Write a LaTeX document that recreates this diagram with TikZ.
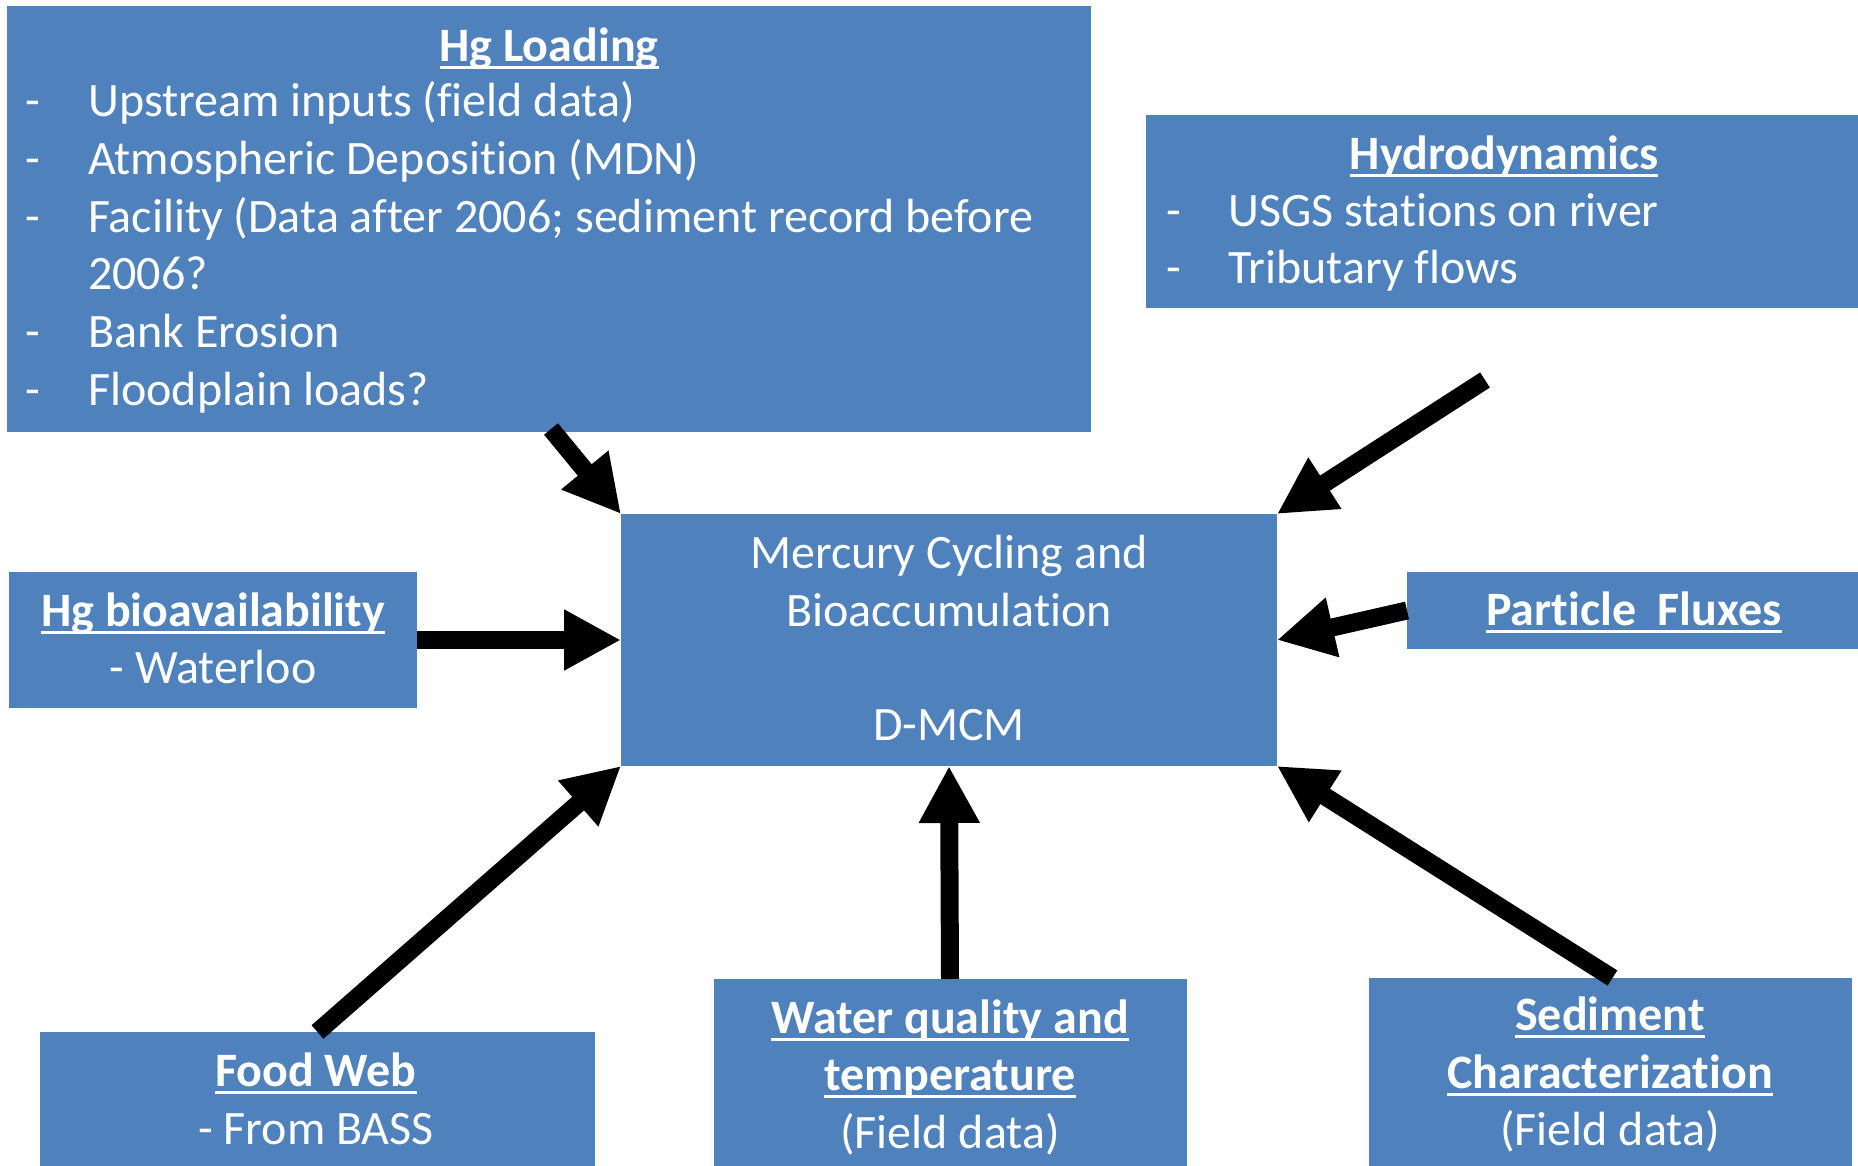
\documentclass[tikz,border=0pt]{standalone}
\usepackage{fontspec}
\setmainfont{Carlito}[Ligatures=NoCommon]
\usetikzlibrary{arrows.meta,calc}
\definecolor{boxblue}{HTML}{4F81BD}
\newcommand\ulx[1]{\setbox0\hbox{#1}\rlap{\rule[-7.5pt]{\wd0}{3pt}}\box0}
\begin{document}
\begin{tikzpicture}[x=1pt,y=-1pt,
  font=\fontsize{48}{57.6}\selectfont,
  box/.style={fill=boxblue, draw=none, inner sep=0pt, outer sep=0pt, anchor=north west},
  txt/.style={text=white, inner sep=0pt, anchor=base},
  ltxt/.style={text=white, inner sep=0pt, anchor=base west},
  conn/.style={line width=18pt, -{Triangle[length=57pt,width=57pt]}}]
\useasboundingbox (0,0) rectangle (1858,1166);
% boxes
\node[box, minimum width=1084pt, minimum height=426pt] (hgload) at (7,6) {};
\node[box, minimum width=712pt, minimum height=193pt] (hydro) at (1146,115) {};
\node[box, minimum width=656pt, minimum height=252pt] (central) at (621,514) {};
\node[box, minimum width=408pt, minimum height=136pt] (bioav) at (9,572) {};
\node[box, minimum width=451pt, minimum height=77pt] (particle) at (1407,572) {};
\node[box, minimum width=555pt, minimum height=134pt] (foodweb) at (40,1032) {};
\node[box, minimum width=473pt, minimum height=187pt] (water) at (714,979) {};
\node[box, minimum width=483pt, minimum height=188pt] (sediment) at (1369,978) {};
% Hg Loading text
\node[txt] (hgt) at (549,62) {\ulx{\textbf{Hg Loading}}};
\node[txt] (hd1) at (33,117) {-};
\node[ltxt] (hl1) at (88,117) {Upstream inputs (field data)};
\node[txt] (hd2) at (33,174.6) {-};
\node[ltxt] (hl2) at (88,174.6) {Atmospheric Deposition (MDN)};
\node[txt] (hd3) at (33,232.2) {-};
\node[ltxt] (hl3) at (88,232.2) {Facility (Data after 2006; sediment record before};
\node[ltxt] (hl3b) at (88,289.8) {2006?};
\node[txt] (hd4) at (33,347.4) {-};
\node[ltxt] (hl4) at (88,347.4) {Bank Erosion};
\node[txt] (hd5) at (33,405) {-};
\node[ltxt] (hl5) at (88,405) {Floodplain loads?};
% Hydrodynamics text
\node[txt] (hyt) at (1504,170) {\ulx{\textbf{Hydrodynamics}}};
\node[txt] (yd1) at (1174,227) {-};
\node[ltxt] (yl1) at (1228,227) {USGS stations on river};
\node[txt] (yd2) at (1174,284) {-};
\node[ltxt] (yl2) at (1228,284) {Tributary flows};
% central text
\node[txt] (c1) at (949,568) {Mercury Cycling and};
\node[txt] (c2) at (949,626) {Bioaccumulation};
\node[txt] (c3) at (949,740) {D-MCM};
% bioavailability
\node[txt] (b1) at (213,626) {\ulx{\textbf{Hg bioavailability}}};
\node[txt] (b2) at (213,683) {- Waterloo};
% particle fluxes
\node[txt] (p1) at (1634,625) {\ulx{\textbf{Particle\ \ Fluxes}}};
% food web
\node[txt] (f1) at (316,1086) {\ulx{\textbf{Food Web}}};
\node[txt] (f2) at (316,1144) {- From BASS};
% water quality
\node[txt] (w1) at (950,1033) {\ulx{\textbf{Water quality and}}};
\node[txt] (w2) at (950,1090) {\ulx{\textbf{temperature}}};
\node[txt] (w3) at (950,1148) {(Field data)};
% sediment
\node[txt] (s1) at (1610,1030) {\ulx{\textbf{Sediment}}};
\node[txt] (s2) at (1610,1088) {\ulx{\textbf{Characterization}}};
\node[txt] (s3) at (1610,1145) {(Field data)};
% connectors
\coordinate (hstart) at (1485,380);
\draw[conn] ($(hgload.south west)+(544,-3)$) -- (central.north west);
\draw[conn] (hstart) -- (central.north east);
\draw[conn] (bioav.east) -- (central.west);
\draw[conn] (particle.west) -- (central.east);
\draw[conn] (foodweb.north) -- (central.south west);
\draw[conn] ($(water.north)+(-0.5,0)$) -- (central.south);
\draw[conn] ($(sediment.north)+(2,0)$) -- (central.south east);
\end{tikzpicture}
\end{document}
